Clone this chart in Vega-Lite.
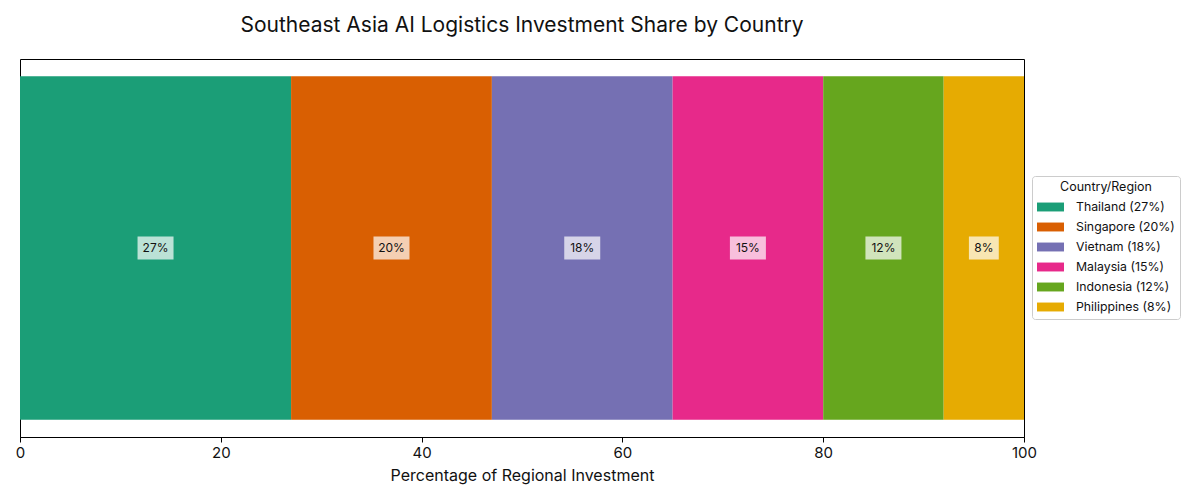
{
  "$schema": "https://vega.github.io/schema/vega-lite/v6.json",
  "width": 1004,
  "height": 378,
  "autosize": {"type": "none"},
  "padding": {"left": 20, "top": 59, "right": 176, "bottom": 63},
  "config": {
    "font": "Inter",
    "view": {"stroke": "black", "strokeWidth": 1}
  },
  "title": {
    "text": "Southeast Asia AI Logistics Investment Share by Country",
    "fontSize": 21,
    "fontWeight": "normal",
    "color": "#111111",
    "offset": 23,
    "anchor": "middle"
  },
  "data": {
    "values": [
      {"group": "All", "country": "Thailand", "legend": "Thailand (27%)", "share": 27, "pct": "27%", "rank": 1},
      {"group": "All", "country": "Singapore", "legend": "Singapore (20%)", "share": 20, "pct": "20%", "rank": 2},
      {"group": "All", "country": "Vietnam", "legend": "Vietnam (18%)", "share": 18, "pct": "18%", "rank": 3},
      {"group": "All", "country": "Malaysia", "legend": "Malaysia (15%)", "share": 15, "pct": "15%", "rank": 4},
      {"group": "All", "country": "Indonesia", "legend": "Indonesia (12%)", "share": 12, "pct": "12%", "rank": 5},
      {"group": "All", "country": "Philippines", "legend": "Philippines (8%)", "share": 8, "pct": "8%", "rank": 6}
    ]
  },
  "encoding": {
    "y": {"field": "group", "type": "nominal", "axis": null, "scale": {"paddingInner": 0, "paddingOuter": 0.05}},
    "order": {"field": "rank", "type": "quantitative"}
  },
  "layer": [
    {
      "mark": {"type": "bar"},
      "encoding": {
        "x": {
          "field": "share", "type": "quantitative", "stack": "zero",
          "scale": {"domain": [0, 100], "nice": false},
          "title": "Percentage of Regional Investment",
          "axis": {
            "values": [0, 20, 40, 60, 80, 100],
            "grid": false,
            "domainColor": "black",
            "tickColor": "black",
            "tickSize": 5,
            "labelFlush": false,
            "labelPadding": 3,
            "labelFontSize": 15,
            "labelColor": "#111111",
            "titleFontSize": 16,
            "titleFontWeight": "normal",
            "titleColor": "#111111",
            "titlePadding": 7
          }
        },
        "color": {
          "field": "legend",
          "type": "nominal",
          "scale": {
            "domain": ["Thailand (27%)", "Singapore (20%)", "Vietnam (18%)", "Malaysia (15%)", "Indonesia (12%)", "Philippines (8%)"],
            "range": ["#1b9e77", "#d95f02", "#7570b3", "#e7298a", "#66a61e", "#e6ab02"]
          },
          "legend": {
            "orient": "none",
            "legendX": 1012,
            "legendY": 117,
            "title": "Country/Region",
            "titleAnchor": "middle",
            "titleFontWeight": "normal",
            "titleFontSize": 12.5,
            "titleColor": "#111111",
            "titlePadding": 0,
            "labelFontSize": 12.3,
            "labelColor": "#111111",
            "strokeColor": "#cccccc",
            "fillColor": "white",
            "cornerRadius": 3,
            "padding": 5,
            "symbolType": "M-1,-0.33L1,-0.33L1,0.33L-1,0.33Z",
            "symbolSize": 729,
            "symbolStrokeWidth": 0,
            "rowPadding": 0,
            "labelOffset": 12
          }
        }
      }
    },
    {
      "mark": {"type": "point", "filled": true, "color": "white", "opacity": 0.7, "size": 1296},
      "encoding": {
        "x": {"field": "share", "type": "quantitative", "stack": "zero", "bandPosition": 0.5, "title": "Percentage of Regional Investment"},
        "detail": {"field": "country"},
        "shape": {
          "condition": {"test": "datum.share < 10", "value": "M-0.83,-0.64L0.83,-0.64L0.83,0.64L-0.83,0.64Z"},
          "value": "M-1,-0.64L1,-0.64L1,0.64L-1,0.64Z"
        }
      }
    },
    {
      "mark": {"type": "text", "fontSize": 12, "color": "#111111"},
      "encoding": {
        "x": {"field": "share", "type": "quantitative", "stack": "zero", "bandPosition": 0.5, "title": "Percentage of Regional Investment"},
        "detail": {"field": "country"},
        "text": {"field": "pct"}
      }
    }
  ]
}
